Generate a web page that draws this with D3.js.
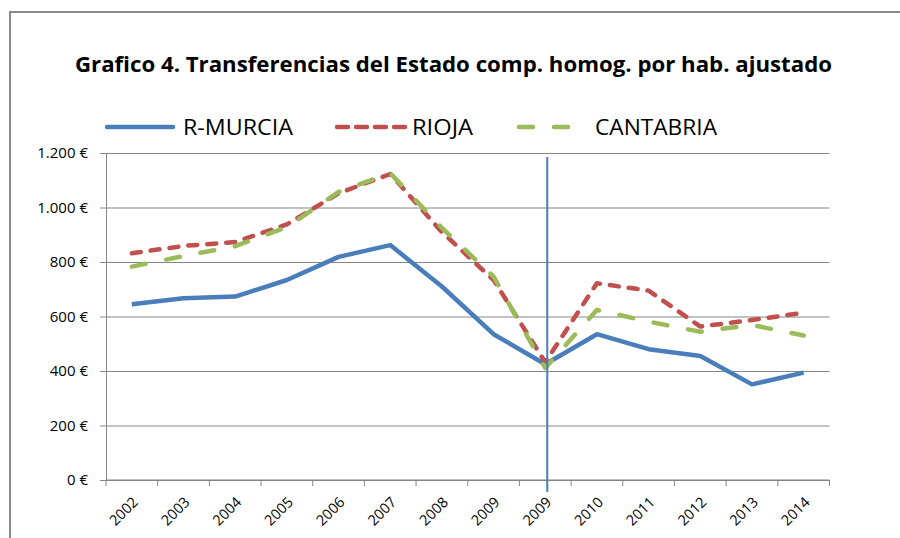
<!DOCTYPE html>
<html>
<head>
<meta charset="utf-8">
<script src="https://cdn.jsdelivr.net/npm/d3@7"></script>
<style>
    body { margin: 0; background: #fff; }
    svg { display: block; }
    .axis path, .axis line { stroke: #868686; }
    .axis text { font-family: 'Open Sans', sans-serif; fill: #000; }
</style>
</head>
<body>
<script>
// Chart data
const years = ['2002', '2003', '2004', '2005', '2006', '2007', '2008', '2009', '2009', '2010', '2011', '2012', '2013', '2014'];
const murcia = [645, 667, 673, 734, 819, 862, 710, 535, 425, 535, 480, 455, 351, 394];
const rioja = [832, 859, 873, 938, 1052, 1123, 910, 734, 432, 722, 695, 563, 587, 614];
const cantabria = [783, 822, 858, 928, 1057, 1126, 925, 746, 411, 624, 581, 544, 569, 530];
const yTicks = [0, 200, 400, 600, 800, 1000, 1200];
const yTickLabels = ['0 €', '200 €', '400 €', '600 €', '800 €', '1.000 €', '1.200 €'];
// Vertical marker at the second 2009 category
const markerIndex = 8;
const markerRange = [1185, -44];

const seriesNames = ['R-MURCIA', 'RIOJA', 'CANTABRIA'];
const seriesData = [murcia, rioja, cantabria];

const width = 900, height = 538;
const svg = d3.select('body').append('svg')
    .attr('width', width)
    .attr('height', height);

// Outer frame
svg.append('rect')
    .attr('x', 10)
    .attr('y', 12)
    .attr('width', 910)
    .attr('height', 560)
    .style('fill', 'none')
    .style('stroke', '#8a8a8a')
    .style('stroke-width', 2);

// Title
svg.append('text')
    .attr('x', 75)
    .attr('y', 72)
    .attr('textLength', 757)
    .attr('lengthAdjust', 'spacingAndGlyphs')
    .style('font-family', "'Open Sans', sans-serif")
    .style('font-weight', 'bold')
    .style('font-size', '21px')
    .text('Grafico 4. Transferencias del Estado comp. homog. por hab. ajustado');

// Scales
const x = d3.scaleBand()
    .domain(d3.range(years.length))
    .range([106, 829.5]);
const y = d3.scaleLinear()
    .domain([0, 1200])
    .range([480, 153]);
const cx = i => x(i) + x.bandwidth() / 2;

const styles = [
    { color: '#4a7ebb', dash: null },
    { color: '#c0504d', dash: '9,10' },
    { color: '#9bbb59', dash: '14,21' }
];

// Grid
svg.append('g')
    .attr('class', 'axis')
    .attr('transform', 'translate(106,0)')
    .call(d3.axisLeft(y)
        .tickValues(yTicks)
        .tickSize(-(829.5 - 106))
        .tickFormat(''))
    .call(g => g.select('.domain').remove());

// Y axis
const yAxis = svg.append('g')
    .attr('class', 'axis')
    .attr('transform', 'translate(106,0)')
    .call(d3.axisLeft(y)
        .tickValues(yTicks)
        .tickSize(6)
        .tickSizeOuter(0)
        .tickPadding(12)
        .tickFormat((d, i) => yTickLabels[i]));
yAxis.selectAll('text').style('font-size', '15px');

// X axis, ticks between categories
const xAxis = svg.append('g')
    .attr('class', 'axis')
    .attr('transform', 'translate(0,480)')
    .call(d3.axisBottom(x)
        .tickSize(0)
        .tickFormat(i => years[i]));
xAxis.select('.domain').remove();
xAxis.append('line')
    .attr('x1', 106).attr('x2', 829.5)
    .style('stroke', '#868686');
xAxis.selectAll('.edge')
    .data(d3.range(years.length + 1))
    .join('line')
    .attr('class', 'edge')
    .attr('x1', i => i < years.length ? x(i) : x.range()[1])
    .attr('x2', i => i < years.length ? x(i) : x.range()[1])
    .attr('y1', 0)
    .attr('y2', 6)
    .style('stroke', '#868686');
xAxis.selectAll('.tick text')
    .attr('text-anchor', 'end')
    .attr('dy', 0)
    .attr('transform', 'translate(5,21) rotate(-45)')
    .style('font-size', '14.5px');

// Series lines
const line = d3.line()
    .x((d, i) => cx(i))
    .y(d => y(d));

seriesData.forEach((values, k) => {
    svg.append('path')
        .datum(values)
        .attr('d', line)
        .style('fill', 'none')
        .style('stroke', styles[k].color)
        .style('stroke-width', 4.5)
        .style('stroke-linejoin', 'round')
        .style('stroke-linecap', styles[k].dash ? 'round' : 'butt')
        .style('stroke-dasharray', styles[k].dash);
});

// Vertical marker line
svg.append('line')
    .attr('x1', cx(markerIndex) + 2)
    .attr('x2', cx(markerIndex) + 2)
    .attr('y1', y(markerRange[0]))
    .attr('y2', y(markerRange[1]))
    .style('stroke', '#4a7ebb')
    .style('stroke-width', 2);

// Legend
const legendItems = [
    { x1: 107, x2: 173, tx: 183, tw: 110 },
    { x1: 337, x2: 405, tx: 412, tw: 61 },
    { x1: 519, x2: 570, tx: 595, tw: 122 }
];
const legend = svg.append('g');
legendItems.forEach((d, k) => {
    legend.append('line')
        .attr('x1', d.x1).attr('x2', d.x2)
        .attr('y1', 127).attr('y2', 127)
        .style('stroke', styles[k].color)
        .style('stroke-width', 4.5)
        .style('stroke-linecap', 'round')
        .style('stroke-dasharray', k === 1 ? '11,8' : styles[k].dash);
    legend.append('text')
        .attr('x', d.tx)
        .attr('y', 135)
        .attr('textLength', d.tw)
        .attr('lengthAdjust', 'spacingAndGlyphs')
        .style('font-family', "'Open Sans', sans-serif")
        .style('font-size', '22px')
        .style('fill', '#000')
        .text(seriesNames[k]);
});
</script>
</body>
</html>
